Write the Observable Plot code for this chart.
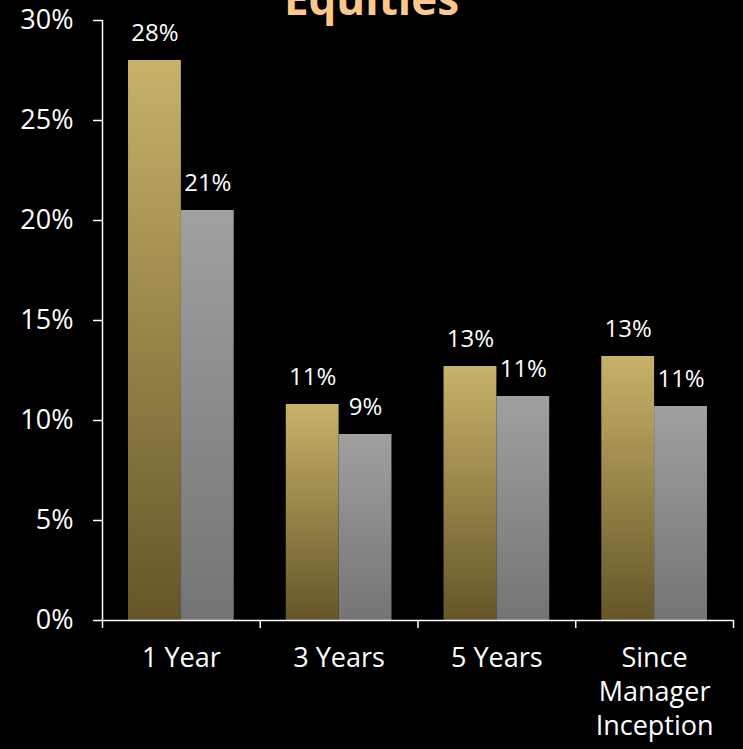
<!DOCTYPE html>
<html>
<head>
<meta charset="utf-8">
<script src="https://cdn.jsdelivr.net/npm/d3@7"></script>
<script src="https://cdn.jsdelivr.net/npm/@observablehq/plot@0.6"></script>
<style>
  html, body { margin: 0; padding: 0; background: #000; overflow: hidden; }
  #wrap { position: relative; width: 743px; height: 749px; }
  #title { position: absolute; left: 0; width: 743px; top: -24px; text-align: center;
    font-family: "Open Sans", sans-serif; font-weight: 700; font-size: 44px; line-height: 1;
    color: #fcc88a; z-index: 2; }
</style>
</head>
<body>
<div id="wrap"><div id="title">Equities</div><div id="chart"></div></div>
<script>
const categories = ["1 Year", "3 Years", "5 Years", "Since Manager Inception"];
const series = ["Fund", "Benchmark"];
const fundValues = [0.28, 0.108, 0.127, 0.132];
const benchmarkValues = [0.205, 0.093, 0.112, 0.107];
const yTicks = [0, 0.05, 0.10, 0.15, 0.20, 0.25, 0.30];

const rows = categories.flatMap((c, i) => [
  {category: c, i, series: "Fund", value: fundValues[i]},
  {category: c, i, series: "Benchmark", value: benchmarkValues[i]}
]);
const inner = d3.scaleBand().domain(series).range([0.165, 0.835]);
const x1 = d => d.i + inner(d.series);
const x2 = d => d.i + inner(d.series) + inner.bandwidth();
const xc = d => d.i + inner(d.series) + inner.bandwidth() / 2;
const pct = d3.format(".0%");

function gradients() {
  const defs = d3.create("svg:defs");
  const g1 = defs.append("linearGradient").attr("id", "gradFund")
    .attr("x1", 0).attr("y1", 0).attr("x2", 0).attr("y2", 1);
  g1.append("stop").attr("offset", "0%").attr("stop-color", "#c8b26a");
  g1.append("stop").attr("offset", "100%").attr("stop-color", "#645628");
  const g2 = defs.append("linearGradient").attr("id", "gradBench")
    .attr("x1", 0).attr("y1", 0).attr("x2", 0).attr("y2", 1);
  g2.append("stop").attr("offset", "0%").attr("stop-color", "#a0a0a0");
  g2.append("stop").attr("offset", "100%").attr("stop-color", "#747474");
  return defs.node();
}

const chart = Plot.plot({
  width: 743,
  height: 749,
  marginLeft: 102,
  marginRight: 10,
  marginTop: 20,
  marginBottom: 129,
  style: {background: "#000", color: "#fff", fontFamily: "Open Sans, sans-serif"},
  x: {type: "linear", domain: [0, categories.length], label: null},
  y: {domain: [0, 0.30], label: null},
  marks: [
    gradients,
    Plot.rectY(rows.filter(d => d.series === "Fund"), {x1, x2, y1: 0, y2: "value", fill: "url(#gradFund)"}),
    Plot.rectY(rows.filter(d => d.series === "Benchmark"), {x1, x2, y1: 0, y2: "value", fill: "url(#gradBench)"}),
    Plot.text(rows, {x: xc, y: "value", text: d => pct(d.value), dy: -27, fontSize: 24, fill: "#fff"}),
    Plot.axisY({ticks: yTicks, tickFormat: pct, tickSize: 9, tickPadding: 20, fontSize: 27, strokeWidth: 1.5, label: null}),
    Plot.axisX({ticks: d3.range(categories.length + 1), tickSize: 8, tickFormat: () => "", strokeWidth: 1.5, label: null}),
    Plot.axisX({ticks: categories.map((c, i) => i + 0.5), tickSize: 0, tickPadding: 22,
      tickFormat: d => categories[Math.floor(d)], fontSize: 27, lineWidth: 5, lineHeight: 1.27, label: null}),
    Plot.ruleX([0], {y1: 0, y2: 0.30, stroke: "#fff", strokeWidth: 1.5}),
    Plot.ruleY([0], {x1: 0, x2: categories.length, stroke: "#fff", strokeWidth: 1.5})
  ]
});
document.getElementById("chart").appendChild(chart);
</script>
</body>
</html>
